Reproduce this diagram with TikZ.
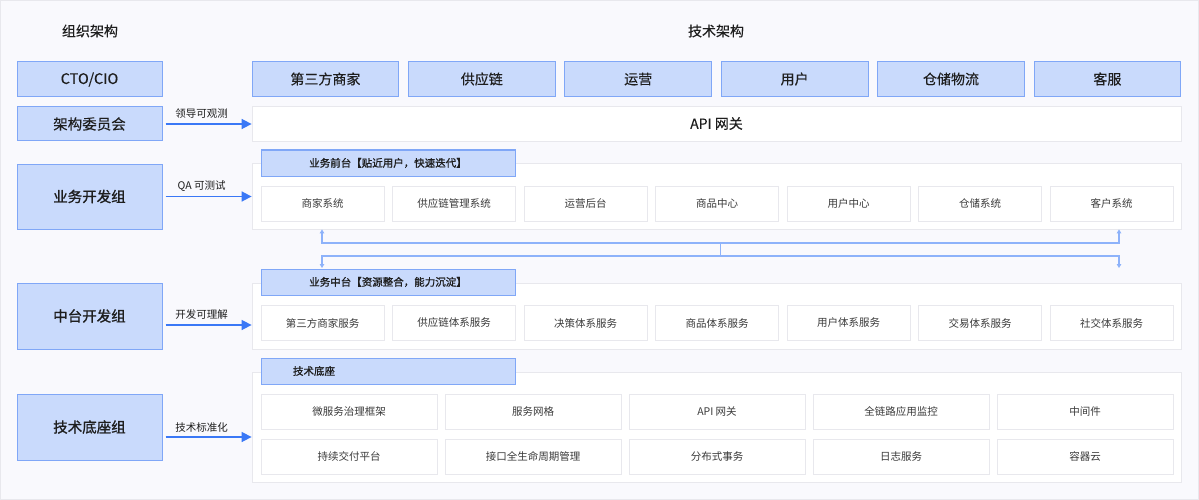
\documentclass[tikz,border=0pt]{standalone}
\usepackage{fontspec}
\setmainfont{Noto Sans CJK SC}
\newfontfamily\medfont{Noto Sans CJK SC}[FakeBold=0.3]
\newfontfamily\semifont{Noto Sans CJK SC}[FakeBold=1.2]
\usepackage{tikz}
\usetikzlibrary{shapes,arrows,arrows.meta}

\definecolor{boxblue}{HTML}{C9DAFC}
\definecolor{edgeblue}{HTML}{80A7F7}
\definecolor{arrowblue}{HTML}{3A78F6}
\definecolor{linkblue}{HTML}{8DB2FA}
\definecolor{panelgray}{HTML}{E8E8ED}
\definecolor{bggray}{HTML}{F9F9FD}
\definecolor{textdark}{HTML}{1E1E1E}
\definecolor{textsvc}{HTML}{3A3A3A}

\begin{document}
\begin{tikzpicture}[x=1pt,y=-1pt,
		role/.style={draw=edgeblue, fill=boxblue, line width=1pt, minimum width=145pt, inner sep=0pt, text=textdark, font=\medfont\fontsize{14.5}{16}\selectfont},
		bizbox/.style={draw=edgeblue, fill=boxblue, line width=1pt, minimum width=146.8pt, minimum height=35pt, inner sep=0pt, text=textdark, font=\medfont\fontsize{14}{16}\selectfont},
		panel/.style={draw=panelgray, fill=white, line width=0.8pt, minimum width=929pt, inner sep=0pt},
		tag/.style={draw=edgeblue, fill=boxblue, line width=1pt, minimum width=254pt, minimum height=26pt, inner sep=0pt, text=textdark, font=\semifont\fontsize{10.5}{12}\selectfont},
		svc/.style={draw=panelgray, fill=white, line width=0.8pt, minimum width=123pt, minimum height=35pt, inner sep=0pt, text=textsvc, font=\fontsize{10.5}{12}\selectfont},
		basesvc/.style={svc, minimum width=176pt},
		flow/.style={arrowblue, line width=1.6pt, -{Triangle[length=10pt,width=10pt]}},
		link/.style={linkblue, line width=1.2pt},
		note/.style={above=1pt, xshift=-7pt, text=textdark, font=\fontsize{10.5}{12}\selectfont}]
			\useasboundingbox (0,0) rectangle (1199,500);
			\fill[bggray, draw=panelgray] (0.5,0.5) rectangle (1198.5,499.5);
			\node[text=textdark, font=\medfont\fontsize{14}{16}\selectfont] (orgT) at (90,31) {组织架构};
			\node[text=textdark, font=\medfont\fontsize{14}{16}\selectfont] (techT) at (716,31) {技术架构};
			\node[role, minimum height=35pt] (cto) at (89.5,79.5) {CTO/CIO};
			\node[role, minimum height=34pt] (arch) at (89.5,124) {架构委员会};
			\node[role, minimum height=65pt, font=\semifont\fontsize{14.5}{16}\selectfont] (devF) at (89.5,196.5) {业务开发组};
			\node[role, minimum height=66pt, font=\semifont\fontsize{14.5}{16}\selectfont] (devM) at (89.5,316) {中台开发组};
			\node[role, minimum height=66pt, font=\semifont\fontsize{14.5}{16}\selectfont] (devB) at (89.5,427) {技术底座组};
			\node[bizbox] (dom1) at (325.4,79) {第三方商家};
			\node[bizbox] (dom2) at (481.8,79) {供应链};
			\node[bizbox] (dom3) at (638.2,79) {运营};
			\node[bizbox] (dom4) at (794.6,79) {用户};
			\node[bizbox] (dom5) at (951.0,79) {仓储物流};
			\node[bizbox] (dom6) at (1107.4,79) {客服};
			\node[panel, minimum height=35pt, text=textdark, font=\medfont\fontsize{14}{16}\selectfont] (api) at (716.5,123.5) {API 网关};
			\node[panel, minimum height=66pt] (front) at (716.5,196) {};
			\node[tag] (frontT) at (388,163) {业务前台【贴近用户，快速迭代】};
			\node[svc] (fr1) at (322.5,203.5) {商家系统};
			\node[svc] (fr2) at (454,203.5) {供应链管理系统};
			\node[svc] (fr3) at (585.5,203.5) {运营后台};
			\node[svc] (fr4) at (717,203.5) {商品中心};
			\node[svc] (fr5) at (848.5,203.5) {用户中心};
			\node[svc] (fr6) at (980,203.5) {仓储系统};
			\node[svc] (fr7) at (1111.5,203.5) {客户系统};
			\node[panel, minimum height=66pt] (mid) at (716.5,316) {};
			\node[tag] (midT) at (388,282) {业务中台【资源整合，能力沉淀】};
			\node[svc] (mid1) at (322.5,323) {第三方商家服务};
			\node[svc] (mid2) at (454,323) {供应链体系服务};
			\node[svc] (mid3) at (585.5,323) {决策体系服务};
			\node[svc] (mid4) at (717,323) {商品体系服务};
			\node[svc] (mid5) at (848.5,323) {用户体系服务};
			\node[svc] (mid6) at (980,323) {交易体系服务};
			\node[svc] (mid7) at (1111.5,323) {社交体系服务};
			\node[panel, minimum height=110pt] (base) at (716.5,427) {};
			\node[tag, text width=190pt, inner xsep=32pt, align=left] (baseT) at (388,371) {技术底座};
			\node[basesvc] (base1) at (349,411.5) {微服务治理框架};
			\node[basesvc] (base2) at (533,411.5) {服务网格};
			\node[basesvc] (base3) at (717,411.5) {API 网关};
			\node[basesvc] (base4) at (901,411.5) {全链路应用监控};
			\node[basesvc] (base5) at (1085,411.5) {中间件};
			\node[basesvc] (base6) at (349,456.5) {持续交付平台};
			\node[basesvc] (base7) at (533,456.5) {接口全生命周期管理};
			\node[basesvc] (base8) at (717,456.5) {分布式事务};
			\node[basesvc] (base9) at (901,456.5) {日志服务};
			\node[basesvc] (base10) at (1085,456.5) {容器云};
			\draw[flow] ([xshift=3pt]arch.east) -- node[note]{领导可观测} (arch.east -| api.west);
			\draw[flow] ([xshift=3pt]devF.east) -- node[note]{QA 可测试} (devF.east -| front.west);
			\draw[flow] ([shift={(3pt,-9pt)}]devM.east) -- node[note]{开发可理解} ([yshift=-9pt]devM.east -| mid.west);
			\draw[flow] ([shift={(3pt,-10pt)}]devB.east) -- node[note]{技术标准化} ([yshift=-10pt]devB.east -| base.west);
			\coordinate (upL) at (322,243);
			\coordinate (upR) at (1119,243);
			\coordinate (upM) at (720.5,243);
			\coordinate (dnL) at (322,256);
			\coordinate (dnR) at (1119,256);
			\coordinate (dnM) at (720.5,256);
			\coordinate (endL) at (322,268);
			\coordinate (endR) at (1119,268);
			\draw[link, {Triangle[length=4pt,width=4.5pt]}-{Triangle[length=4pt,width=4.5pt]}] (upL |- front.south) -- (upL) -- (upR) -- (upR |- front.south);
			\draw[link] (upM) -- (dnM);
			\draw[link, {Triangle[length=4pt,width=4.5pt]}-{Triangle[length=4pt,width=4.5pt]}] (endL) -- (dnL) -- (dnR) -- (endR);
		\end{tikzpicture}
\end{document}
